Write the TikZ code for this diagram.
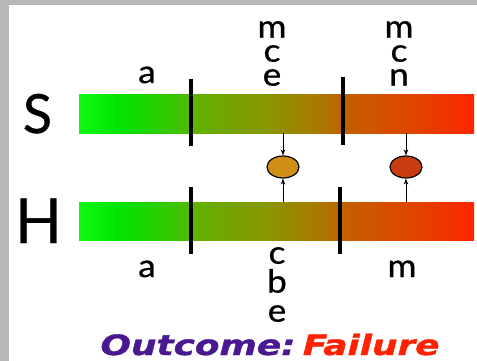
\documentclass[tikz,border=0pt]{standalone}
\usepackage{fontspec}
\setmainfont{Lato}
\newfontfamily\lbl[FakeBold=0.7]{Lato}
\newfontfamily\outfont[BoldItalicFeatures={FakeBold=1.2}]{DejaVu Sans}
\usetikzlibrary{arrows.meta,shapes.geometric}
\definecolor{bgrey}{HTML}{B8B8B8}
\definecolor{gA}{HTML}{10FA10}
\definecolor{gB}{HTML}{00E400}
\definecolor{gC}{HTML}{3AC400}
\definecolor{gD}{HTML}{62B000}
\definecolor{gE}{HTML}{8A9600}
\definecolor{gF}{HTML}{AA7800}
\definecolor{gG}{HTML}{C45E00}
\definecolor{gH}{HTML}{DA4A00}
\definecolor{gI}{HTML}{F23200}
\definecolor{gJ}{HTML}{FF2400}
\definecolor{gold}{HTML}{D09018}
\definecolor{rust}{HTML}{C83C10}
\definecolor{purp}{HTML}{4A1890}
\definecolor{fred}{HTML}{FF2200}
\pgfdeclarehorizontalshading{bargrad}{100bp}{%
color(0bp)=(gA); color(25bp)=(gA); color(30bp)=(gB); color(37bp)=(gC);
color(40bp)=(gD); color(49bp)=(gE); color(55.5bp)=(gF); color(59bp)=(gG);
color(65.5bp)=(gH); color(72bp)=(gI); color(75bp)=(gJ); color(100bp)=(gJ)}
\tikzset{
  bar/.style={rectangle, minimum width=395pt, minimum height=38pt, inner sep=0pt, shading=bargrad},
  tick/.style={line width=3.5pt},
  letter/.style={font=\lbl\fontsize{32}{24}\selectfont, anchor=base, inner sep=0pt, xscale=1.1},
  stack/.style={font=\lbl\fontsize{32}{24}\selectfont, anchor=north, inner sep=0pt, align=center, xscale=1.1},
  big/.style={anchor=base, inner sep=0pt},
  blob/.style={ellipse, draw=black, line width=1.2pt, minimum width=32pt, minimum height=22pt, inner sep=0pt},
  arr/.style={line width=0.8pt, -{Stealth[length=6pt,width=4.5pt]}}
}
\begin{document}
\begin{tikzpicture}[x=1pt,y=-1pt]
\useasboundingbox (0,0) rectangle (477,361);
\fill[bgrey] (0,0) rectangle (477,361);
\fill[white] (9,5) rectangle (477,361);
% bars
\node[bar] (Sbar) at (276.5,114) {};
\node[bar] (Hbar) at (276.5,221.5) {};
% ticks
\draw[tick] (191,79) -- (191,146);
\draw[tick] (343,77) -- (343,145);
\draw[tick] (191,187) -- (191,254);
\draw[tick] (340,187) -- (340,254);
% row labels
\node[big, font=\lbl\fontsize{54}{54}\selectfont] (S) at (37.5,133) {S};
\node[big, font=\lbl\fontsize{62}{62}\selectfont] (H) at (38.5,243) {H};
% blobs
\node[blob, fill=gold] (e1) at (283,167) {};
\node[blob, fill=rust] (e2) at (406,167) {};
\coordinate (s1) at (283,133);
\coordinate (s2) at (406,133);
\coordinate (h1) at (283,202);
\coordinate (h2) at (406,202);
\draw[arr] (s1) -- (e1.north);
\draw[arr] (s2) -- (e2.north);
\draw[arr] (h1) -- (e1.south);
\draw[arr] (h2) -- (e2.south);
% top labels
\node[letter] (ta) at (147,83) {a};
\node[stack] (tk1) at (272,21) {m\\c\\e};
\node[stack] (tk2) at (399,21) {m\\c\\n};
% bottom labels
\node[letter] (ba) at (147,277) {a};
\node[stack, font=\lbl\fontsize{32}{29}\selectfont] (bk) at (277,247) {c\\b\\e};
\node[letter] (bm) at (402,277) {m};
% outcome
\node[anchor=base, inner sep=0pt, xscale=1.28, font=\outfont\bfseries\itshape\fontsize{28}{28}\selectfont] (out) at (270,355)
  {\textcolor{purp}{Outcome:}\kern-4pt\ \textcolor{fred}{Failure}};
\end{tikzpicture}
\end{document}
